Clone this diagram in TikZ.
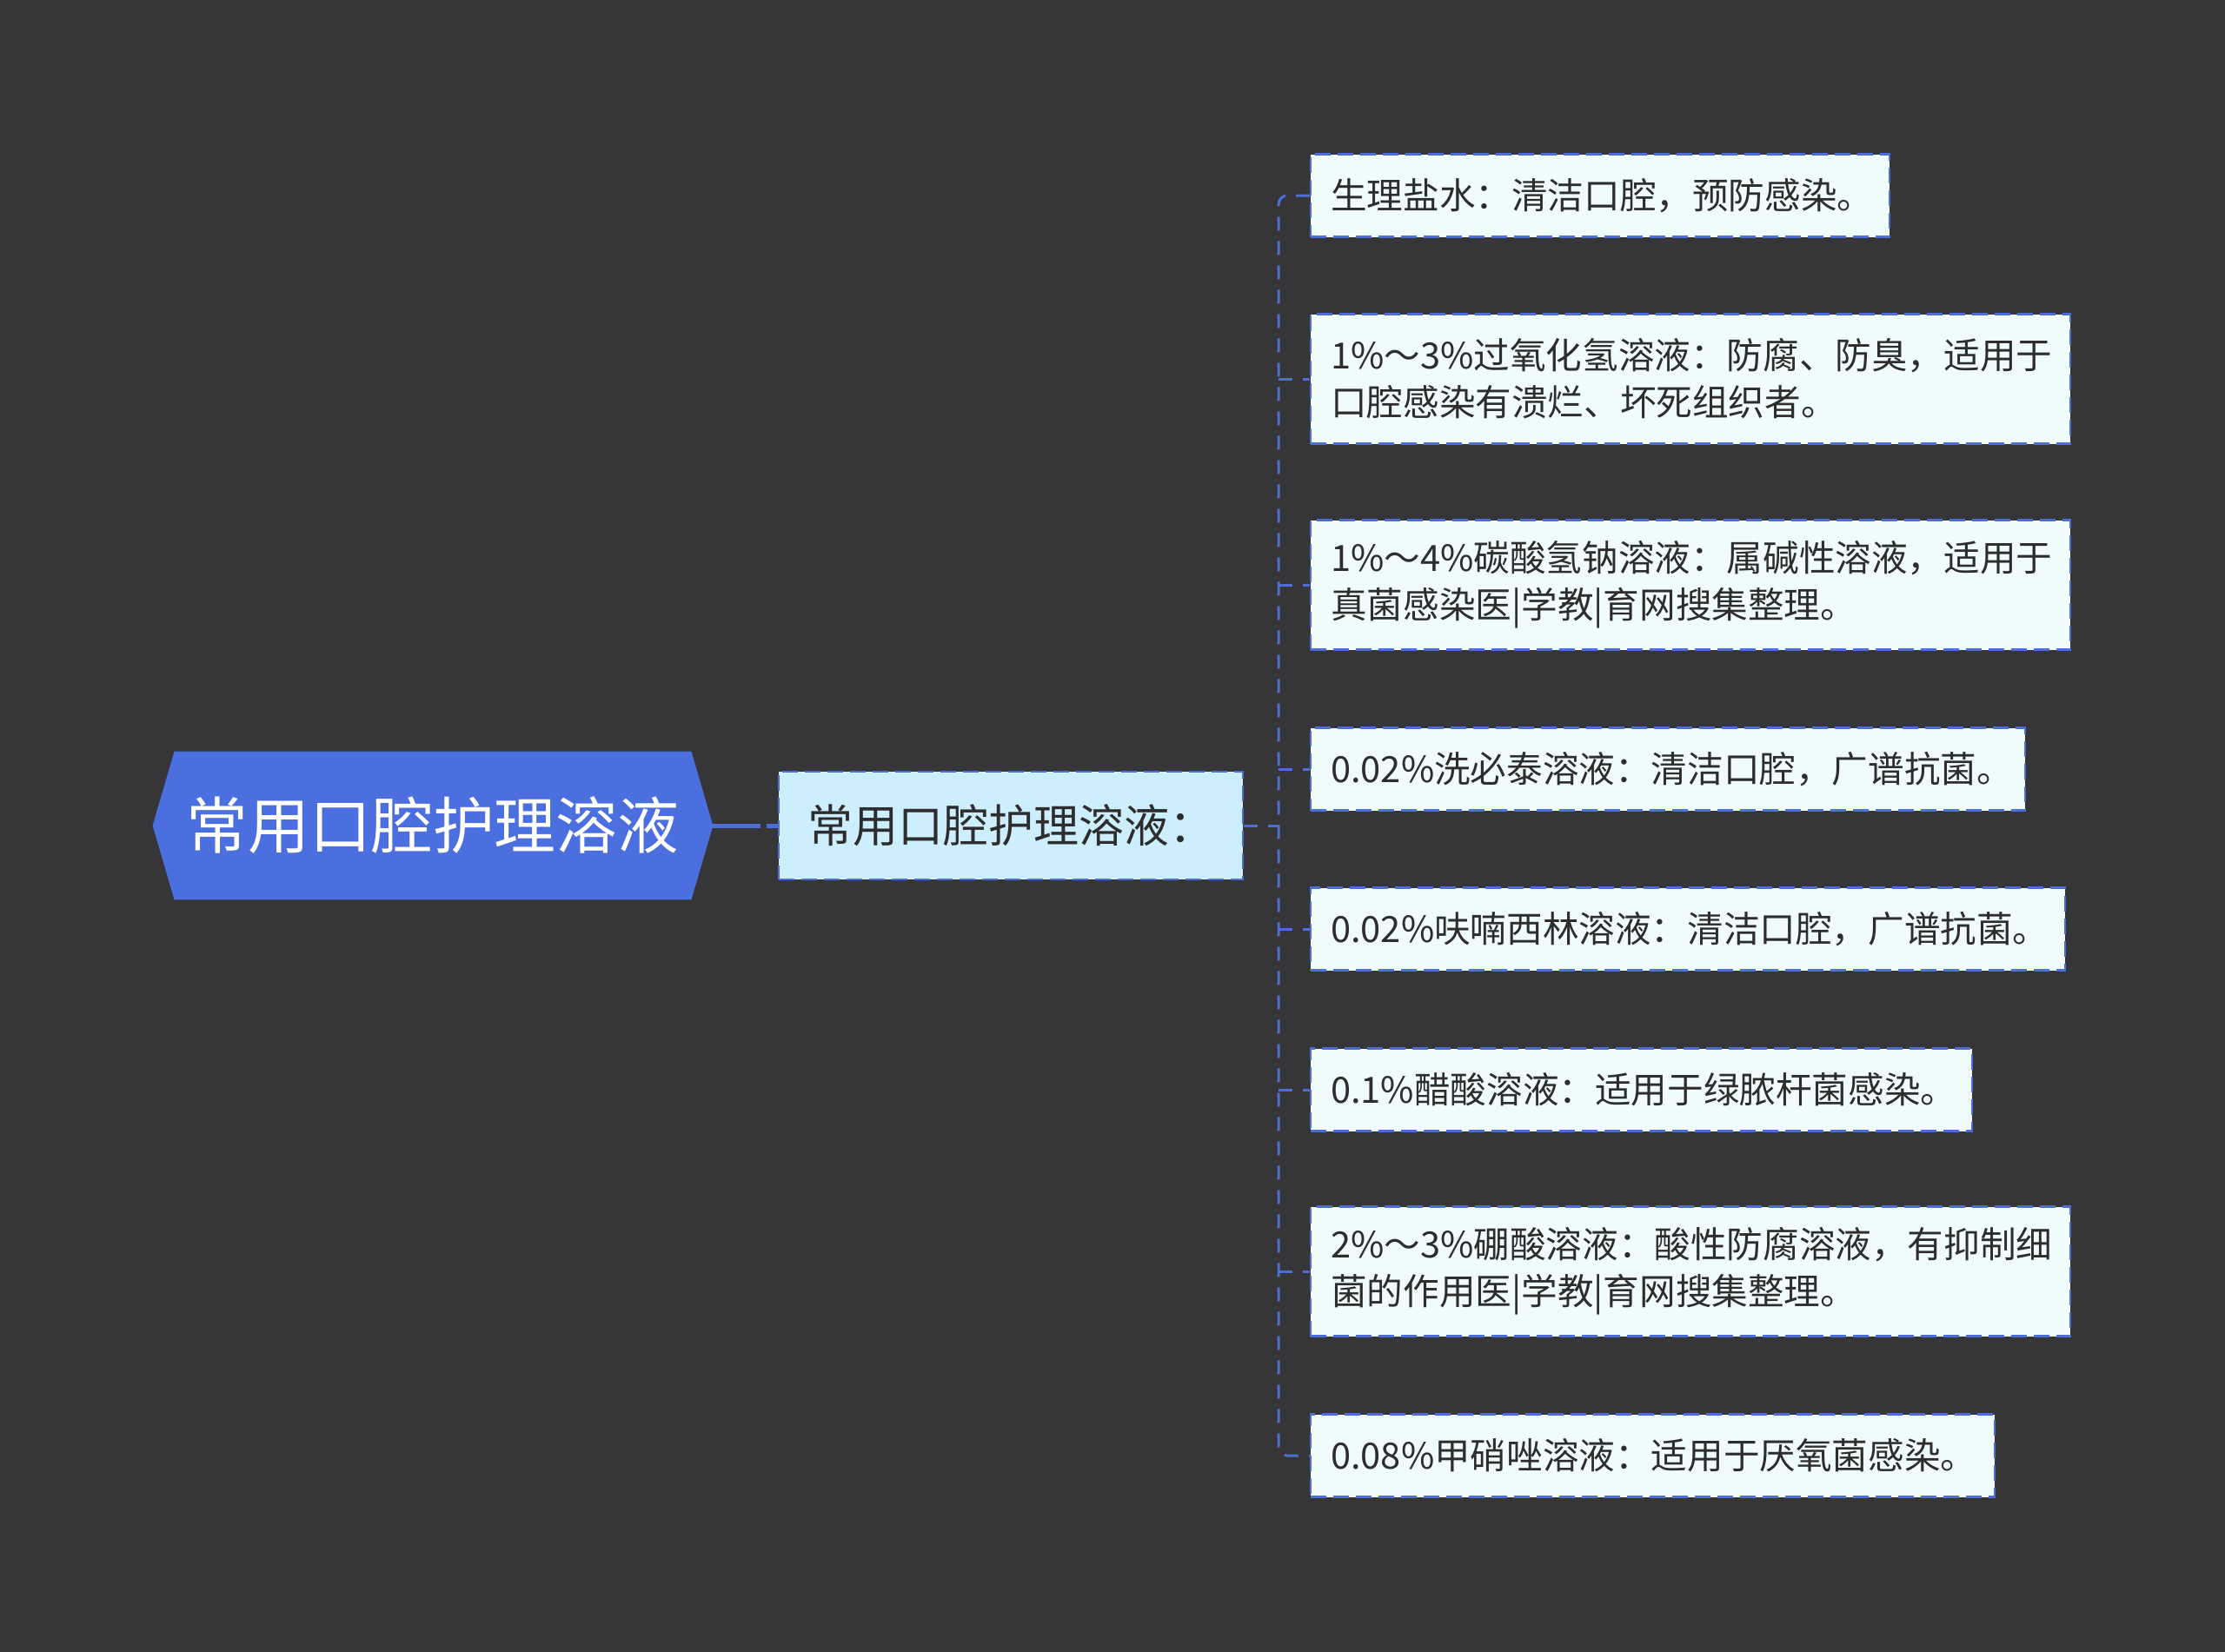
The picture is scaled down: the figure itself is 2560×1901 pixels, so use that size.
\documentclass[tikz,border=0pt]{standalone}
\usepackage{fontspec}
\setmainfont{Noto Sans CJK SC}
\pgfdeclarelayer{bg}
\pgfsetlayers{bg,main}
\definecolor{bgc}{RGB}{54,53,55}
\definecolor{rootfill}{RGB}{76,111,224}
\definecolor{lineblue}{RGB}{77,110,217}
\definecolor{leaffill}{RGB}{240,252,252}
\definecolor{childfill}{RGB}{204,238,253}
\definecolor{leaftext}{RGB}{45,45,45}
\begin{document}
\begin{tikzpicture}[x=0.5pt,y=-0.5pt,
  leafbox/.style={draw=lineblue, line width=1.2pt, dash pattern=on 9pt off 4pt,
    fill=leaffill, text=leaftext, font=\fontsize{20.8pt}{27pt}\selectfont,
    anchor=west, align=left, inner xsep=11.5pt, inner ysep=0pt,
    minimum height=47.5pt, text width=#1},
  tallbox/.style={minimum height=74.5pt},
  rootnode/.style={minimum width=322pt, minimum height=85pt, inner sep=0pt,
    text=white, font=\fontsize{35.4pt}{40pt}\selectfont},
  childnode/.style={draw=lineblue, line width=1.2pt, dash pattern=on 9pt off 4pt,
    fill=childfill, text=leaftext, minimum width=267pt, minimum height=62pt,
    inner sep=0pt, font=\fontsize{26pt}{30pt}\selectfont},
  conn/.style={draw=lineblue, line width=1.5pt, dash pattern=on 8pt off 6pt}
]
\begin{pgfonlayer}{bg}
\fill[bgc] (0,0) rectangle (2560,1901);
\end{pgfonlayer}
\useasboundingbox (0,0) rectangle (2560,1901);

\node[rootnode] (root) at (498,950) {常用口腔护理溶液};
\begin{pgfonlayer}{bg}
\fill[rootfill] (root.west) -- ([xshift=12.5pt]root.north west) -- ([xshift=-12.5pt]root.north east)
  -- (root.east) -- ([xshift=-12.5pt]root.south east) -- ([xshift=12.5pt]root.south west) -- cycle;
\end{pgfonlayer}

\node[childnode] (child) at (1163,950) {常用口腔护理溶液：};
\coordinate (tk) at (1471,950);

\node[leafbox=310pt] (l1) at (1507,225) {生理盐水：清洁口腔，预防感染。};
\node[leafbox=414pt, tallbox] (l2) at (1507,436) {1\%～3\%过氧化氢溶液：防腐、防臭，适用于\\口腔感染有溃烂、坏死组织者。};
\node[leafbox=414pt, tallbox] (l3) at (1507,673) {1\%～4\%碳酸氢钠溶液：属碱性溶液，适用于\\真菌感染医|学教|育网搜集整理。};
\node[leafbox=388pt] (l4) at (1507,885) {0.02\%洗必泰溶液：清洁口腔，广谱抗菌。};
\node[leafbox=411pt] (l5) at (1507,1069) {0.02\%呋喃西林溶液：清洁口腔，广谱抗菌。};
\node[leafbox=357.5pt] (l6) at (1507,1254) {0.1\%醋酸溶液：适用于绿脓杆菌感染。};
\node[leafbox=414pt, tallbox] (l7) at (1507,1463) {2\%～3\%硼酸溶液：酸性防腐溶液，有抑制细\\菌的作用医|学教|育网搜集整理。};
\node[leafbox=370.5pt] (l8) at (1507,1675) {0.08\%甲硝唑溶液：适用于厌氧菌感染。};

\draw[draw=lineblue, line width=2.5pt, dash pattern=on 27.5pt off 3.5pt on 12pt] (root.east) -- (child.west);
\draw[conn] (child.east) -- (tk);
\draw[conn, rounded corners=5pt] (l1.west) -- (tk |- l1.west) -- (tk |- l8.west) -- (l8.west);
\foreach \n in {l2,l3,l4,l5,l6,l7}{
  \draw[conn] (tk |- \n.west) -- (\n.west);
}
\end{tikzpicture}
\end{document}
